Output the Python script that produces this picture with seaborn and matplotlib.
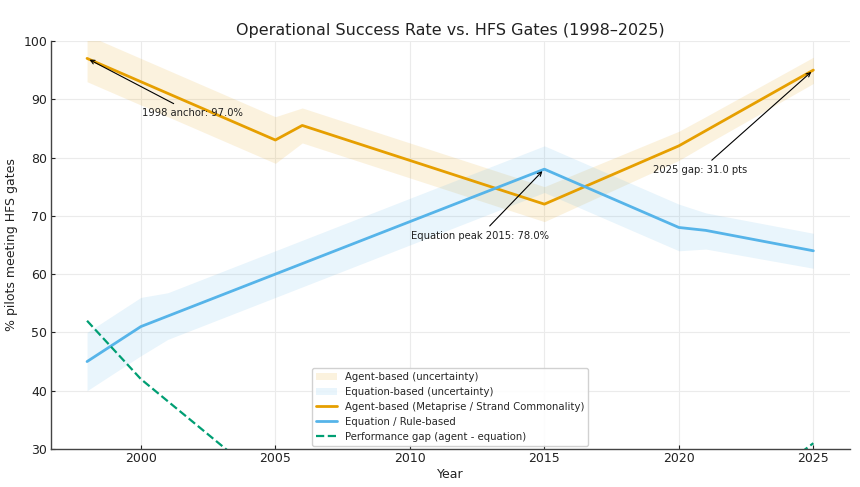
import matplotlib
matplotlib.use("Agg")
import matplotlib.pyplot as plt
import seaborn as sns
import numpy as np
import pandas as pd

years = [1998, 2000, 2001, 2005, 2006, 2015, 2020, 2021, 2025]
agent = [97.0, 93.0, 91.0, 83.0, 85.5, 72.0, 82.0, 84.6, 95.0]
agent_lo = [93.0, 89.0, 87.0, 79.0, 82.5, 69.0, 79.5, 82.2, 92.7]
agent_hi = [101.0, 97.0, 95.0, 87.0, 88.5, 75.0, 84.5, 87.0, 97.2]
equation = [45.0, 51.0, 52.8, 60.0, 61.8, 78.0, 68.0, 67.5, 64.0]
equation_lo = [40.0, 46.0, 48.8, 56.0, 57.8, 74.0, 64.0, 64.3, 61.0]
equation_hi = [50.0, 56.0, 56.8, 64.0, 65.8, 82.0, 72.0, 70.5, 67.0]
gap = [52.0, 42.0, 38.2, 23.0, 23.7, -6.0, 14.0, 17.1, 31.0]

df = pd.DataFrame({"Year": years, "agent": agent, "equation": equation, "gap": gap,
                   "agent_lo": agent_lo, "agent_hi": agent_hi,
                   "eq_lo": equation_lo, "eq_hi": equation_hi})

sns.set_theme(style="whitegrid")
plt.rcParams['font.family'] = ['DejaVu Sans']

c_agent = "#E69F00"
c_eq = "#56B4E9"
c_gap = "#009E73"

fig, ax = plt.subplots(figsize=(8.6, 4.87), dpi=100)
fig.subplots_adjust(left=0.059, right=0.988, top=0.916, bottom=0.078)

b1 = ax.fill_between(df["Year"], df["agent_lo"], df["agent_hi"], color=c_agent, alpha=0.13,
                     linewidth=0, label="Agent-based (uncertainty)")
b2 = ax.fill_between(df["Year"], df["eq_lo"], df["eq_hi"], color=c_eq, alpha=0.13,
                     linewidth=0, label="Equation-based (uncertainty)")
sns.lineplot(data=df, x="Year", y="agent", ax=ax, color=c_agent, linewidth=2,
             label="Agent-based (Metaprise / Strand Commonality)")
sns.lineplot(data=df, x="Year", y="equation", ax=ax, color=c_eq, linewidth=2,
             label="Equation / Rule-based")
sns.lineplot(data=df, x="Year", y="gap", ax=ax, color=c_gap, linewidth=1.6, linestyle="--",
             label="Performance gap (agent - equation)")

ax.set_ylim(30, 100)
ax.set_xticks([2000, 2005, 2010, 2015, 2020, 2025])
ax.set_title("Operational Success Rate vs. HFS Gates (1998–2025)", fontsize=11.5,
             color="#222222", pad=4.5)
ax.set_xlabel("Year", fontsize=9, color="#222222", labelpad=2)
ax.set_ylabel("% pilots meeting HFS gates", fontsize=9, color="#222222", labelpad=4)
ax.tick_params(axis="both", labelsize=9, colors="#222222", length=3, width=0.8,
               direction="in", pad=2.5, bottom=True, left=True)
ax.grid(True, color="#ebebeb", linewidth=0.8)
for s in ["top", "right"]:
    ax.spines[s].set_visible(False)
for s in ["left", "bottom"]:
    ax.spines[s].set_color("#444444")
    ax.spines[s].set_linewidth(1.0)

arrow = dict(arrowstyle="->", color="black", lw=0.8)
ax.annotate("1998 anchor: 97.0%", xy=(1998, 97.0), xytext=(2001.9, 87.6), fontsize=7.2,
            ha="center", va="center", arrowprops=arrow, color="#222222")
ax.annotate("Equation peak 2015: 78.0%", xy=(2015, 78.0), xytext=(2012.6, 66.5), fontsize=7.2,
            ha="center", va="center", arrowprops=arrow, color="#222222")
ax.annotate("2025 gap: 31.0 pts", xy=(2025, 95.0), xytext=(2020.8, 77.8), fontsize=7.2,
            ha="center", va="center", arrowprops=arrow, color="#222222")

handles, labels = ax.get_legend_handles_labels()
order = ["Agent-based (uncertainty)", "Equation-based (uncertainty)",
         "Agent-based (Metaprise / Strand Commonality)", "Equation / Rule-based",
         "Performance gap (agent - equation)"]
hmap = dict(zip(labels, handles))
ax.legend([hmap[l] for l in order], order, loc="lower center", fontsize=7.3, frameon=True,
          framealpha=0.9, edgecolor="#cccccc", fancybox=True, borderaxespad=0.3)

fig.savefig("out.png", dpi=100)
